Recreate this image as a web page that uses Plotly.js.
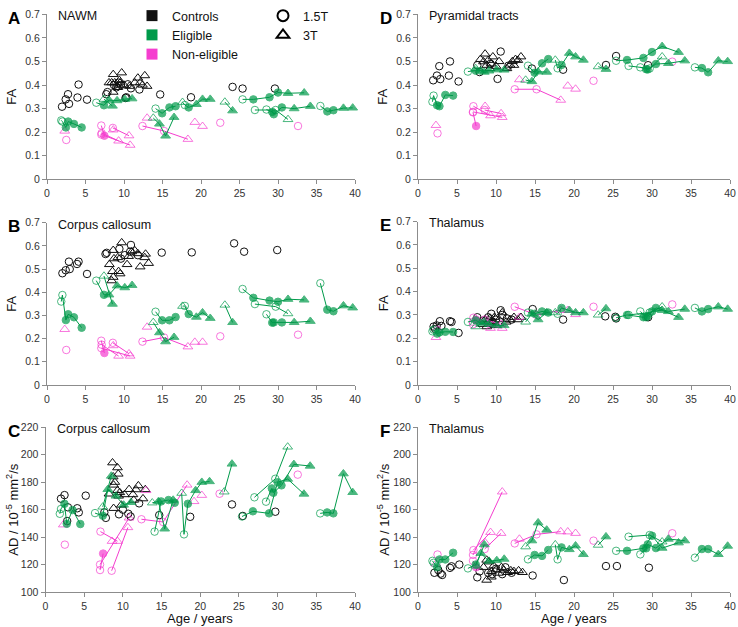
<!DOCTYPE html>
<html><head><meta charset="utf-8">
<script src="https://cdn.plot.ly/plotly-3.0.1.min.js"></script>
<style>html,body{margin:0;padding:0;background:#fff}#chart{width:738px;height:627px}</style>
</head><body><div id="chart"></div>
<script>
// ---------- shared patient ages / marker codes (o=open circle 1.5T, c=filled circle, t=open triangle 3T, T=filled triangle) ----------
const eligAges = [
  [1.85, 2.0, 2.45, 2.75, 3.5, 4.5],
  [6.4, 7.4, 8.05, 9.1, 10.1, 11.05],
  [7.4, 8.5],
  [14.1, 14.95, 15.9, 16.7],
  [17.6, 17.9, 18.4, 19.4, 20.2, 21.2],
  [13.8, 14.6, 15.4, 16.5],
  [25.4, 26.8, 28.9, 30.0, 31.3, 33.4],
  [27.0, 29.7, 31.3],
  [28.5, 29.25, 29.45, 30.5, 32.1, 34.2],
  [35.5, 36.4, 37.2, 38.5, 39.7],
  [23.1, 24.1]
];
const eligSym = [
  ['o','o','c','c','c','c'],
  ['o','c','T','T','T','T'],
  ['t','T'],
  ['o','c','c','c'],
  ['t','o','c','T','T','T'],
  ['t','T','T','T'],
  ['o','c','c','c','T','T'],
  ['o','o','t'],
  ['o','c','c','c','T','T'],
  ['o','c','c','T','T'],
  ['t','T']
];
const nonAges = [[2.3],[2.5],[7.05,10.8],[7.1,9.3],[8.55,10.65],[8.6],[7.05,7.45],[12.4,15.2,18.3],[13.0],[19.2],[20.2],[22.5],[32.6]];
const nonSym  = [['t'],['o'],['o','t'],['o','t'],['o','t'],['t'],['o','c'],['o','o','t'],['t'],['t'],['t'],['o'],['o']];

// ---------- Panel A : FA, NAWM ----------
const A_elig = [
  [0.25,0.245,0.22,0.245,0.235,0.22],[0.325,0.314,0.336,0.334,0.34,0.342],[0.34,0.311],
  [0.30,0.28,0.305,0.31],[0.327,0.315,0.305,0.318,0.34,0.34],[0.26,0.235,0.184,0.263],
  [0.339,0.339,0.348,0.368,0.365,0.367],[0.294,0.294,0.254],[0.296,0.286,0.276,0.305,0.30,0.31],
  [0.311,0.288,0.293,0.302,0.303],[0.328,0.291]];
const A_non = [[0.205],[0.167],[0.19,0.145],[0.196,0.163],[0.218,0.185],[0.21],[0.228,0.185],[0.226,0.205,0.17],[0.26],[0.242],[0.225],[0.24],[0.226]];
const A_c15x = [1.95,2.43,2.73,2.86,3.96,4.1,5.2,7.7,7.85,8.7,9.0,9.3,9.6,10.2,10.3,10.5,10.9,12.0,14.7,18.7,24.1,25.4,29.6];
const A_c15y = [0.308,0.339,0.361,0.32,0.347,0.402,0.338,0.361,0.37,0.40,0.39,0.41,0.40,0.345,0.348,0.403,0.386,0.381,0.36,0.348,0.392,0.385,0.385];
const A_c3x = [8.05,8.4,8.6,8.6,8.8,9.2,9.4,9.7,10.0,10.7,11.4,11.8,12.1,12.4,12.7,13.0,9.3,9.5];
const A_c3y = [0.41,0.41,0.445,0.37,0.41,0.39,0.42,0.452,0.40,0.395,0.41,0.43,0.41,0.40,0.44,0.395,0.40,0.41];

// ---------- Panel B : FA, corpus callosum ----------
const B_elig = [
  [0.36,0.388,0.28,0.305,0.292,0.247],[0.45,0.389,0.389,0.428,0.42,0.43],[0.47,0.349],
  [0.316,0.279,0.279,0.293],[0.34,0.341,0.306,0.293,0.312,0.288],[0.27,0.226,0.187,0.206],
  [0.414,0.376,0.364,0.359,0.37,0.367],[0.349,0.338,0.308],[0.305,0.269,0.27,0.27,0.27,0.275],
  [0.439,0.325,0.318,0.342,0.333],[0.345,0.27]];
const B_non = [[0.24],[0.151],[0.159,0.125],[0.174,0.125],[0.182,0.135],[0.17],[0.191,0.138],[0.187,0.205,0.165],[0.25],[0.185],[0.185],[0.21],[0.217]];
const B_c15x = [2.0,2.43,2.85,2.95,3.9,4.1,5.2,7.6,7.75,9.4,9.6,10.1,10.8,10.9,11.8,14.9,18.8,24.3,25.6,29.9];
const B_c15y = [0.482,0.495,0.532,0.5,0.522,0.532,0.479,0.565,0.57,0.587,0.545,0.56,0.575,0.604,0.56,0.571,0.572,0.611,0.575,0.582];
const B_c3x = [8.1,8.5,8.6,8.6,8.7,9.2,9.3,9.5,9.7,10.4,10.6,11.0,11.4,11.8,12.1,12.7,12.8,13.2,8.4];
const B_c3y = [0.52,0.49,0.581,0.465,0.545,0.55,0.49,0.48,0.614,0.52,0.555,0.575,0.58,0.567,0.51,0.55,0.565,0.525,0.45];

// ---------- Panel C : AD, corpus callosum ----------
const C_elig = [
  [157,160.5,164.3,149.7,159.7,149.5],[157.5,155.6,174.8,170,163.4,165.3],[162,184.5],
  [144,166,167,165],[172,142,164.3,174,180,180.5],[165,166,146,167],
  [155,158.8,157.3,180,182.3,171.4],[169,182.5,205.7],[165.8,175.5,172.3,177.7,193,191.8],
  [157.3,158,157.3,186.2,172.6],[173,193.3]];
const C_non = [[149],[134.5],[120,154],[144,137],[115.5,147],[137],[116,128],[153,151,178],[174],[166],[170.5],[171.6],[185.5]];
const C_c15x = [2.0,2.46,2.9,2.8,4.1,4.3,5.2,7.6,7.8,9.5,10.0,10.7,11.0,12.1,14.7,18.7,24.1,25.5,29.7];
const C_c15y = [168,170.6,161.7,151.7,161,158,170.2,158,154,156.6,160,157,155,164.6,156,154.8,163.8,155.4,158.5];
const C_c3x = [8.66,9.3,9.4,8.75,8.96,8.2,8.8,9.3,9.45,9.8,10.2,10.8,11.3,11.7,12.0,11.4,12.6,12.9,8.8,9.6];
const C_c3y = [194.2,190.6,186,184,180,171.5,178,174,170,163.4,171,174.8,171,174.6,177.5,167,168,174.7,161,172.5];

// ---------- Panel D : FA, pyramidal tracts ----------
const D_elig = [
  [0.329,0.355,0.314,0.31,0.358,0.355],[0.457,0.461,0.46,0.46,0.465,0.464],[0.47,0.455],
  [0.482,0.452,0.492,0.51],[0.506,0.471,0.485,0.535,0.52,0.506],[0.421,0.415,0.456,0.455],
  [0.503,0.506,0.515,0.54,0.564,0.539],[0.481,0.47,0.52],[0.475,0.467,0.466,0.489,0.492,0.503],
  [0.475,0.472,0.454,0.503,0.5],[0.478,0.467]];
const D_non = [[0.229],[0.195],[0.286,0.263],[0.31,0.27],[0.294,0.279],[0.31],[0.284,0.226],[0.382,0.382,0.336],[0.423],[0.396],[0.383],[0.418],[0.499]];
const D_c15x = [1.95,2.43,2.73,2.86,3.96,4.1,5.2,7.6,7.9,9.3,10.2,10.6,11.6,14.6,18.6,24.1,25.4,29.5];
const D_c15y = [0.42,0.44,0.48,0.425,0.44,0.50,0.415,0.484,0.455,0.49,0.426,0.542,0.482,0.47,0.465,0.485,0.523,0.484];
const D_c3x = [8.0,8.4,8.6,8.8,9.0,9.4,9.6,10.0,10.4,11.4,11.8,12.1,12.3,12.5,12.8,13.2,9.2];
const D_c3y = [0.509,0.499,0.532,0.484,0.505,0.49,0.52,0.48,0.5,0.47,0.485,0.5,0.484,0.509,0.505,0.52,0.47];

// ---------- Panel E : FA, thalamus ----------
const E_elig = [
  [0.23,0.237,0.22,0.225,0.228,0.227],[0.27,0.277,0.265,0.26,0.255,0.255],[0.25,0.27],
  [0.31,0.305,0.315,0.31],[0.31,0.305,0.33,0.32,0.31,0.31],[0.27,0.305,0.28,0.31],
  [0.288,0.30,0.29,0.315,0.32,0.29],[0.30,0.31,0.335],[0.315,0.29,0.295,0.33,0.315,0.325],
  [0.33,0.315,0.325,0.335,0.325],[0.30,0.327]];
const E_non = [[0.204],[0.235],[0.27,0.243],[0.288,0.243],[0.28,0.26],[0.27],[0.26,0.28],[0.335,0.30,0.32],[0.29],[0.32],[0.302],[0.335],[0.345]];
const E_c15x = [2.0,2.2,2.4,2.8,3.0,4.1,4.3,5.2,7.6,8.3,9.0,9.4,9.6,10.0,10.6,10.8,11.4,12.0,14.7,18.6,24.0,25.3,25.4,29.5];
const E_c15y = [0.25,0.24,0.255,0.273,0.253,0.273,0.27,0.223,0.29,0.275,0.29,0.305,0.27,0.28,0.32,0.30,0.285,0.28,0.325,0.28,0.294,0.292,0.285,0.29];
const E_c3x = [8.3,8.6,8.8,9.0,9.2,9.4,9.7,10.0,10.4,10.8,11.3,11.8,12.3,12.8,13.2,9.8];
const E_c3y = [0.26,0.28,0.25,0.27,0.285,0.26,0.27,0.255,0.28,0.31,0.27,0.28,0.29,0.28,0.29,0.29];

// ---------- Panel F : AD, thalamus ----------
const F_elig = [
  [122.7,121.3,118,123.7,123.7,128.6],[117.2,120,128.2,122.5,123,124],[119,134.5],
  [123.8,127,126.3,130.6],[134.5,123.8,132.5,131,133.7,127.4],[133,137.4,150.5,145.2],
  [130,130,131.8,141,132,135.9],[140.3,141.5,136.6],[127.4,131.8,134.7,132,138.6,137.4],
  [125,131.3,131.3,127.4,133.5],[134.2,140.3]];
const F_non = [[120.5],[127.3],[127,173],[130.5,143.5],[131.3,142.8],[136],[122.7,118],[135.4,142,144],[138.6],[143.9],[142.8],[137.4],[142.8]];
const F_c15x = [2.1,2.6,2.9,3.1,4.1,4.3,5.3,7.6,7.9,9.0,9.5,10.0,10.8,11.2,12.0,14.7,18.7,24.1,25.5,29.6];
const F_c15y = [114,116,113.4,112.4,117.6,118.7,120,110.7,115,114,113,117,113,118,114,112,108.7,118.9,118.9,117.7];
const F_c3x = [8.8,9.1,8.8,8.4,9.4,10.0,10.3,10.7,11.0,11.5,11.9,12.3,12.9,13.4,9.4,9.7];
const F_c3y = [123.3,122,108.7,118,115,116.2,113.8,118,116,114.3,115.6,115,115.6,114.3,111,119];

// ---------- labels ----------
const panelLetters = ['A','B','C','D','E','F'];
const panelTitles = ['NAWM','Corpus callosum','Corpus callosum','Pyramidal tracts','Thalamus','Thalamus'];
const yTitles = ['FA','FA','AD / 10<sup>-5</sup> mm<sup>2</sup>/s','FA','FA','AD / 10<sup>-5</sup> mm<sup>2</sup>/s'];
const xTitle = 'Age / years';
const groupNames = ['Controls','Eligible','Non-eligible'];
const scannerNames = ['1.5T','3T'];

// ---------- drawing ----------
const W = 738, H = 627;
const GREEN = '#009A4A', MAGENTA = '#F53DCF', BLACK = '#111111';
const symMap = {o:'circle-open', c:'circle', t:'triangle-up-open', T:'triangle-up'};
const sizeMap = {o:7.5, c:7.5, t:8.5, T:8.5};

const panels = [
  {elig:A_elig, non:A_non, c15x:A_c15x, c15y:A_c15y, c3x:A_c3x, c3y:A_c3y, x:[47,355], y:[14.3,179.3], yr:[0,0.7], dy:0.1},
  {elig:B_elig, non:B_non, c15x:B_c15x, c15y:B_c15y, c3x:B_c3x, c3y:B_c3y, x:[47,355], y:[222.7,385], yr:[0,0.7], dy:0.1},
  {elig:C_elig, non:C_non, c15x:C_c15x, c15y:C_c15y, c3x:C_c3x, c3y:C_c3y, x:[45.5,355], y:[427.3,592], yr:[100,220], dy:20},
  {elig:D_elig, non:D_non, c15x:D_c15x, c15y:D_c15y, c3x:D_c3x, c3y:D_c3y, x:[418,730], y:[14.3,179.3], yr:[0,0.7], dy:0.1},
  {elig:E_elig, non:E_non, c15x:E_c15x, c15y:E_c15y, c3x:E_c3x, c3y:E_c3y, x:[418,730], y:[221.5,385], yr:[0,0.7], dy:0.1},
  {elig:F_elig, non:F_non, c15x:F_c15x, c15y:F_c15y, c3x:F_c3x, c3y:F_c3y, x:[418,730], y:[427.3,592], yr:[100,220], dy:20}
];

const traces = [];
const layout = {
  width: W, height: H, margin:{l:0,r:0,t:0,b:0},
  paper_bgcolor:'#fff', plot_bgcolor:'#fff',
  font:{family:'Liberation Sans, Arial, sans-serif', color:'#222', size:11},
  showlegend:true,
  annotations:[]
};

function track(ax, ages, vals, codes, color){
  return {
    type:'scatter', mode: ages.length>1 ? 'lines+markers' : 'markers',
    x: ages, y: vals, xaxis:'x'+ax, yaxis:'y'+ax,
    line:{color:color, width:1},
    marker:{symbol: codes.map(c=>symMap[c]), size: codes.map(c=>sizeMap[c]), color: color, line:{color:color, width:1}},
    showlegend:false, hoverinfo:'x+y', cliponaxis:false
  };
}

panels.forEach((p, i) => {
  const ax = i===0 ? '' : String(i+1);
  // controls
  traces.push({type:'scatter', mode:'markers', x:p.c15x, y:p.c15y, xaxis:'x'+ax, yaxis:'y'+ax,
    marker:{symbol:'circle-open', size:7.5, color:BLACK, line:{width:1, color:BLACK}}, showlegend:false, cliponaxis:false});
  traces.push({type:'scatter', mode:'markers', x:p.c3x, y:p.c3y, xaxis:'x'+ax, yaxis:'y'+ax,
    marker:{symbol:'triangle-up-open', size:8.5, color:BLACK, line:{width:1, color:BLACK}}, showlegend:false, cliponaxis:false});
  // non-eligible
  p.non.forEach((v, k) => traces.push(track(ax, nonAges[k], v, nonSym[k], MAGENTA)));
  // eligible
  p.elig.forEach((v, k) => traces.push(track(ax, eligAges[k], v, eligSym[k], GREEN)));

  const axStyle = {showline:true, linecolor:'#8c8c8c', linewidth:1, ticks:'outside', ticklen:4, tickcolor:'#8c8c8c',
    showgrid:false, zeroline:false, tickfont:{size:10.5, color:'#333'}, fixedrange:true};
  layout['xaxis'+ax] = Object.assign({}, axStyle, {domain:[p.x[0]/W, p.x[1]/W], range:[0,40], dtick:5, tick0:0, anchor:'y'+ax});
  layout['yaxis'+ax] = Object.assign({}, axStyle, {domain:[1-p.y[1]/H, 1-p.y[0]/H], range:p.yr, dtick:p.dy, tick0:p.yr[0], anchor:'x'+ax});

  const left = i < 3;
  layout.annotations.push({text:'<b>'+panelLetters[i]+'</b>', xref:'paper', yref:'paper',
    x:(left?6:378)/W, y:1-(p.y[0]+4)/H, xanchor:'left', yanchor:'middle', showarrow:false, font:{size:17, color:'#000'}});
  layout.annotations.push({text:panelTitles[i], xref:'paper', yref:'paper',
    x:(p.x[0]+9)/W, y:1-(p.y[0]+2)/H, xanchor:'left', yanchor:'middle', showarrow:false, font:{size:12.5, color:'#111'}});
  layout.annotations.push({text:yTitles[i], xref:'paper', yref:'paper', textangle:-90,
    x:(left?12:383)/W, y:1-((p.y[0]+p.y[1])/2)/H, xanchor:'center', yanchor:'middle', showarrow:false, font:{size:13, color:'#111'}});
  if (i===2 || i===5) {
    layout.annotations.push({text:xTitle, xref:'paper', yref:'paper',
      x:((p.x[0]+p.x[1])/2)/W, y:1-618/H, xanchor:'center', yanchor:'middle', showarrow:false, font:{size:13, color:'#111'}});
  }
});

// legend entries (no data, only legend swatches)
const groupColors = [BLACK, GREEN, MAGENTA];
groupNames.forEach((n, k) => traces.push({type:'scatter', mode:'markers', x:[null], y:[null], name:n, legend:'legend',
  marker:{symbol:'square', size:11, color:groupColors[k]}, showlegend:true}));
scannerNames.forEach((n, k) => traces.push({type:'scatter', mode:'markers', x:[null], y:[null], name:n, legend:'legend2',
  marker:{symbol: k===0 ? 'circle-open' : 'triangle-up-open', size:11, color:'#000', line:{width:2, color:'#000'}}, showlegend:true}));

layout.legend = {x:132/W, y:1-1/H, xanchor:'left', yanchor:'top', bgcolor:'rgba(0,0,0,0)', font:{size:12.5, color:'#111'}, tracegroupgap:0, itemclick:false};
layout.legend2 = {x:263/W, y:1-1/H, xanchor:'left', yanchor:'top', bgcolor:'rgba(0,0,0,0)', font:{size:12.5, color:'#111'}, tracegroupgap:0, itemclick:false};

Plotly.newPlot('chart', traces, layout, {staticPlot:true, displayModeBar:false});
</script>
</body></html>
